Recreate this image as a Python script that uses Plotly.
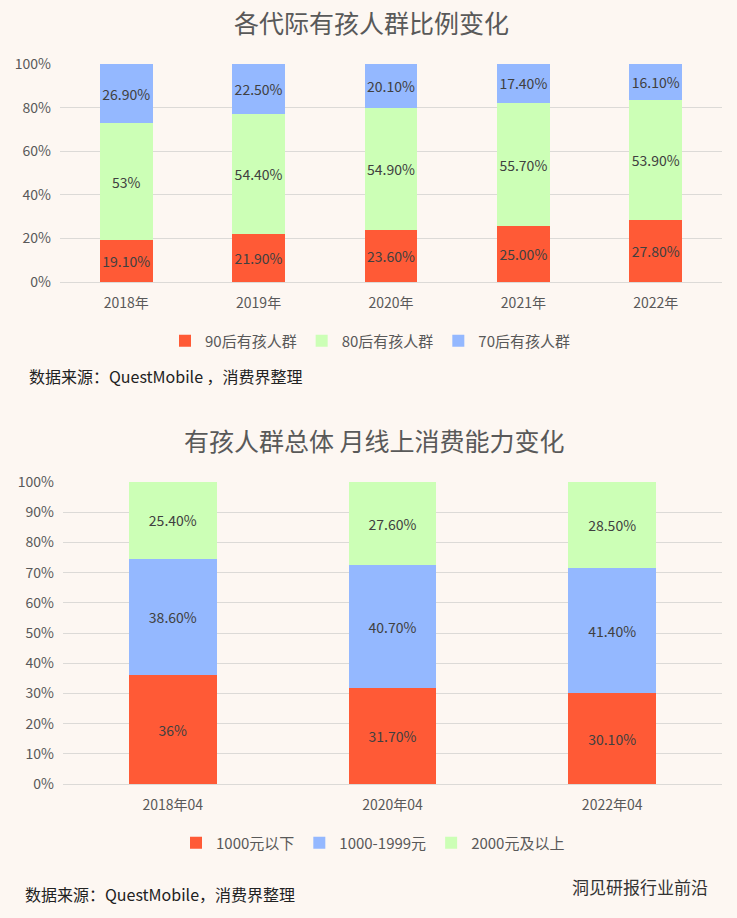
import plotly.graph_objects as go

# ---- data: chart 1 ----
years = ["2018年", "2019年", "2020年", "2021年", "2022年"]
gen90 = [19.1, 21.9, 23.6, 25.0, 27.8]
gen80 = [53.0, 54.4, 54.9, 55.7, 53.9]
gen70 = [26.9, 22.5, 20.1, 17.4, 16.1]
gen90_labels = ["19.10%", "21.90%", "23.60%", "25.00%", "27.80%"]
gen80_labels = ["53%", "54.40%", "54.90%", "55.70%", "53.90%"]
gen70_labels = ["26.90%", "22.50%", "20.10%", "17.40%", "16.10%"]
series1_names = ["90后有孩人群", "80后有孩人群", "70后有孩人群"]

# ---- data: chart 2 ----
periods = ["2018年04", "2020年04", "2022年04"]
below1000 = [36.0, 31.7, 30.1]
mid1000_1999 = [38.6, 40.7, 41.4]
above2000 = [25.4, 27.6, 28.5]
below1000_labels = ["36%", "31.70%", "30.10%"]
mid_labels = ["38.60%", "40.70%", "41.40%"]
above2000_labels = ["25.40%", "27.60%", "28.50%"]
series2_names = ["1000元以下", "1000-1999元", "2000元及以上"]

RED = "#FF5A36"
GREEN = "#CCFFB6"
BLUE = "#94B8FF"
BG = "#FDF7F2"
GRID = "#DCDAD7"
FONT = "Noto Sans CJK SC"


def H(px):
    return 1 - px / 918.0


def W(px):
    return px / 737.0


fig = go.Figure()

for name, vals, labels, col in zip(series1_names, [gen90, gen80, gen70],
                                   [gen90_labels, gen80_labels, gen70_labels],
                                   [RED, GREEN, BLUE]):
    fig.add_trace(go.Bar(
        x=years, y=vals, name=name, marker_color=col, marker_line_width=0,
        text=labels, texttemplate="%{text}", textangle=0, constraintext="none",
        textposition="inside", insidetextanchor="middle",
        textfont=dict(size=14, color="#404040", family=FONT),
        xaxis="x", yaxis="y", legend="legend", hoverinfo="skip",
    ))

for name, vals, labels, col in zip(series2_names, [below1000, mid1000_1999, above2000],
                                   [below1000_labels, mid_labels, above2000_labels],
                                   [RED, BLUE, GREEN]):
    fig.add_trace(go.Bar(
        x=periods, y=vals, name=name, marker_color=col, marker_line_width=0,
        text=labels, texttemplate="%{text}", textangle=0, constraintext="none",
        textposition="inside", insidetextanchor="middle",
        textfont=dict(size=14, color="#404040", family=FONT),
        xaxis="x2", yaxis="y2", legend="legend2", hoverinfo="skip",
    ))

axis_common = dict(
    showgrid=False, showline=True, linecolor=GRID, linewidth=1,
    ticks="", ticklabelstandoff=8,
    tickfont=dict(size=14, color="#595959", family=FONT),
    fixedrange=True,
)
yaxis_common = dict(
    showgrid=True, gridcolor=GRID, gridwidth=1, zeroline=False,
    showline=False, ticks="", ticksuffix="%", ticklabelstandoff=8,
    tickfont=dict(size=14, color="#595959", family=FONT),
    fixedrange=True,
)

fig.update_layout(
    width=737, height=918,
    margin=dict(l=0, r=0, t=0, b=0, autoexpand=False),
    paper_bgcolor=BG, plot_bgcolor=BG,
    barmode="stack", barnorm="percent", bargap=0.6,
    showlegend=True,
    font=dict(family=FONT, color="#595959"),
    xaxis=dict(domain=[W(60), W(722)], anchor="y", **axis_common),
    yaxis=dict(domain=[H(282), H(64)], anchor="x", range=[0, 100], dtick=20, **yaxis_common),
    xaxis2=dict(domain=[W(63), W(722)], anchor="y2", **axis_common),
    yaxis2=dict(domain=[H(784), H(482)], anchor="x2", range=[0, 100], dtick=10, **yaxis_common),
    legend=dict(orientation="h", x=W(370), xanchor="center", y=H(341), yanchor="middle",
                font=dict(size=15, color="#595959", family=FONT), bgcolor="rgba(0,0,0,0)",
                itemwidth=30, traceorder="normal"),
    legend2=dict(orientation="h", x=W(373), xanchor="center", y=H(843), yanchor="middle",
                 font=dict(size=15, color="#595959", family=FONT), bgcolor="rgba(0,0,0,0)",
                 itemwidth=30, traceorder="normal"),
    annotations=[
        dict(text="各代际有孩人群比例变化", x=W(371), y=H(22), xref="paper", yref="paper",
             showarrow=False, font=dict(size=25, color="#595959", family=FONT),
             xanchor="center", yanchor="middle"),
        dict(text="有孩人群总体 月线上消费能力变化", x=W(374), y=H(440), xref="paper", yref="paper",
             showarrow=False, font=dict(size=25, color="#595959", family=FONT),
             xanchor="center", yanchor="middle"),
        dict(text="数据来源：QuestMobile ，消费界整理", x=W(27), y=H(376), xref="paper", yref="paper",
             showarrow=False, font=dict(size=16, color="#222222", family=FONT),
             xanchor="left", yanchor="middle"),
        dict(text="数据来源：QuestMobile，消费界整理", x=W(23), y=H(894), xref="paper", yref="paper",
             showarrow=False, font=dict(size=16, color="#222222", family=FONT),
             xanchor="left", yanchor="middle"),
        dict(text="洞见研报行业前沿", x=W(710), y=H(886), xref="paper", yref="paper",
             showarrow=False, font=dict(size=17, color="#333333", family=FONT),
             xanchor="right", yanchor="middle"),
    ],
)

fig.write_html("out.html", config={"displayModeBar": False},
               post_script="document.body.style.margin='0';")
